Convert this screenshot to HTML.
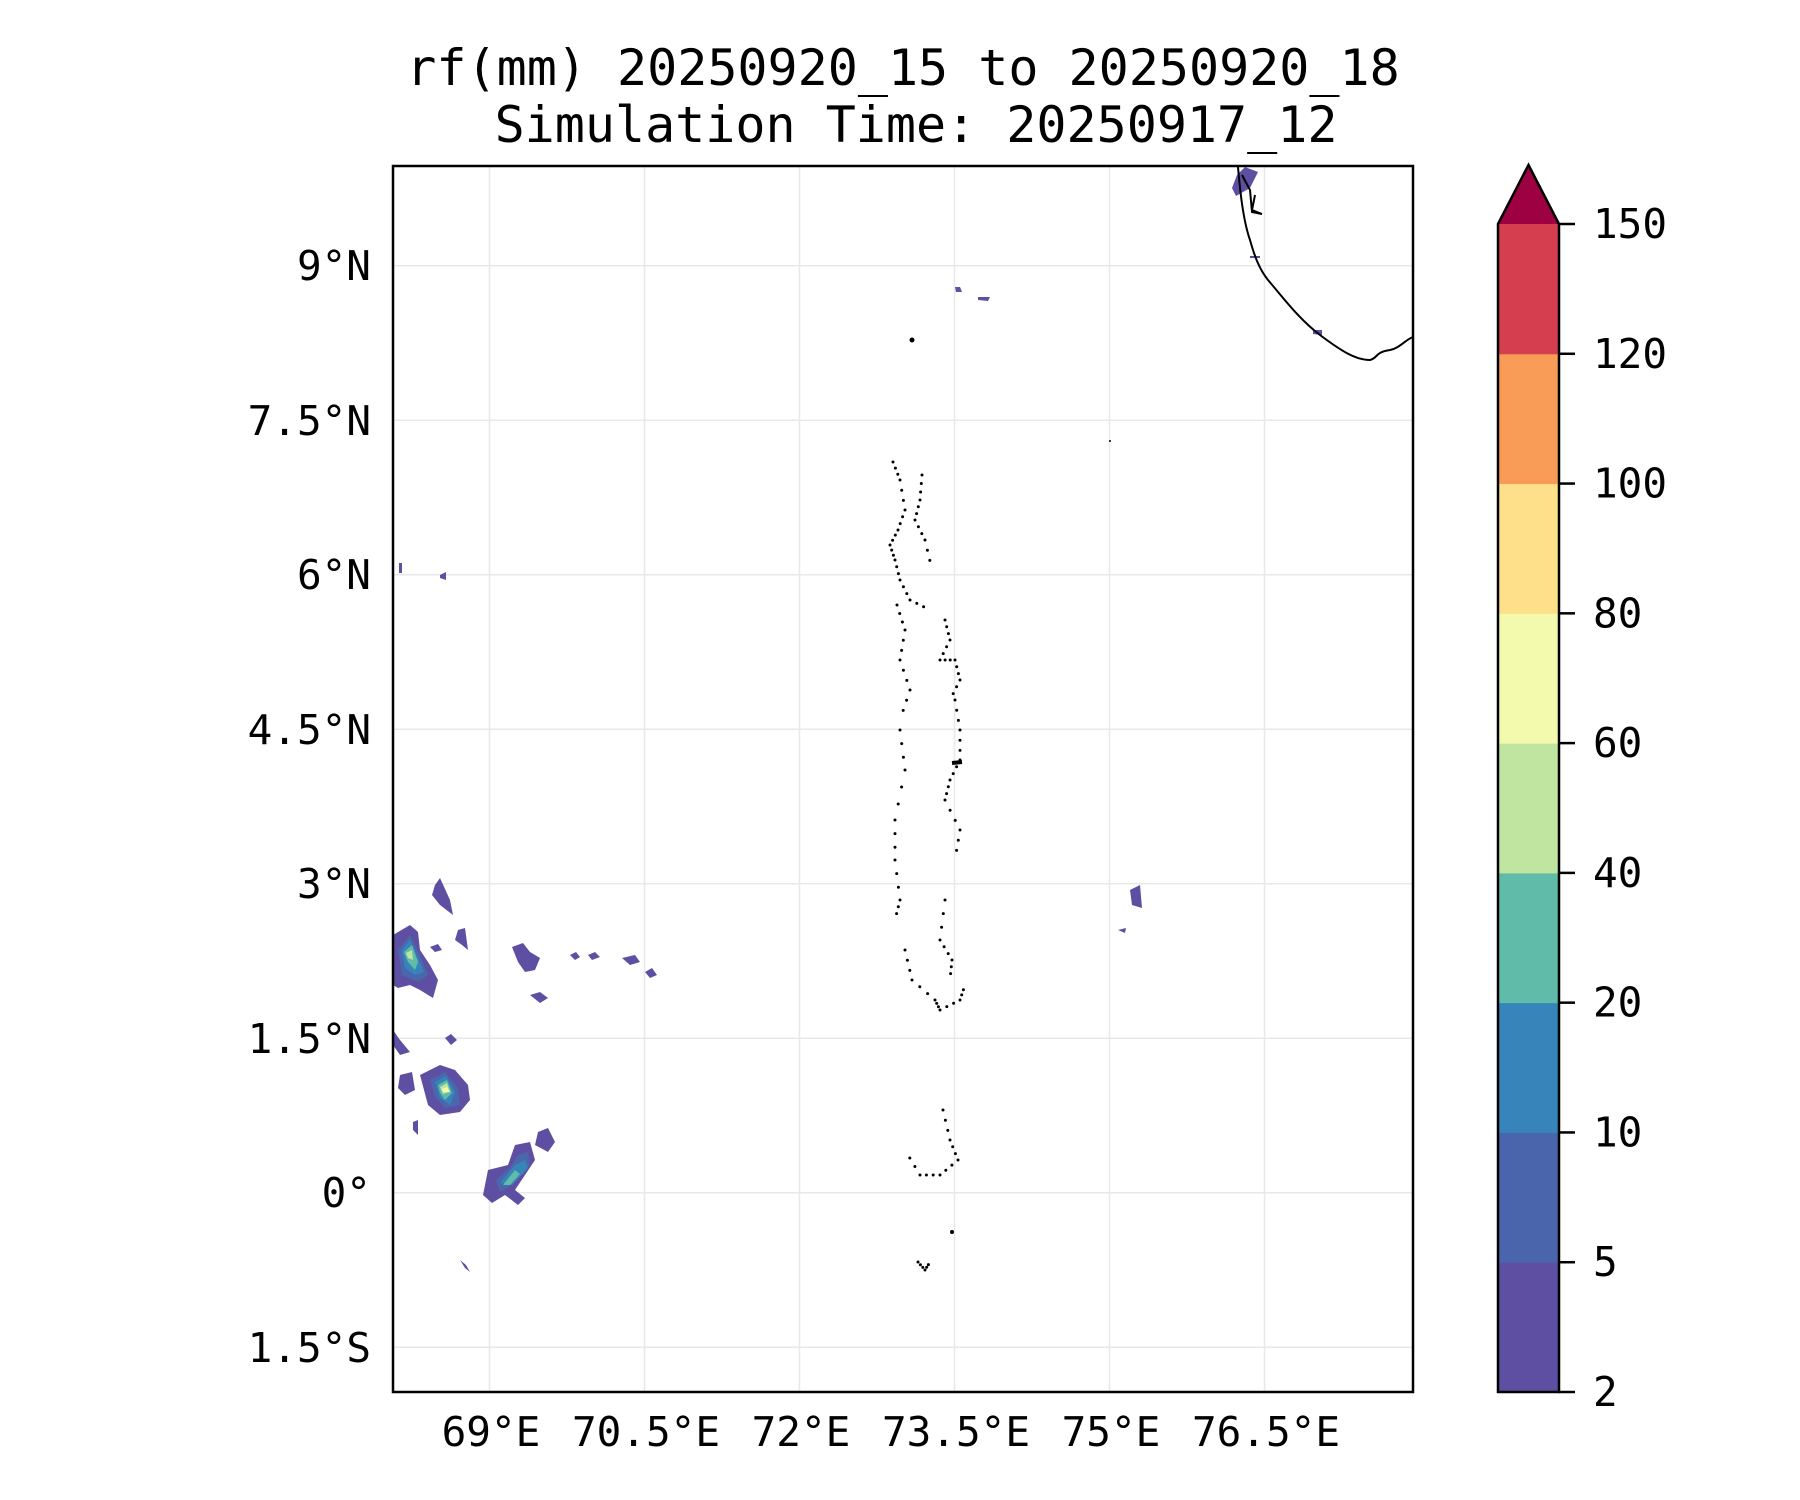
<!DOCTYPE html>
<html><head><meta charset="utf-8"><style>
html,body{margin:0;padding:0;background:#fff;}
svg{display:block;font-family:"DejaVu Sans Mono","Liberation Mono",monospace;}
</style></head><body>
<svg id="s" width="1800" height="1500" viewBox="0 0 1800 1500" xmlns="http://www.w3.org/2000/svg">
<rect width="1800" height="1500" fill="#fff"/>
<text x="903" y="85" font-size="50" text-anchor="middle">rf(mm) 20250920_15 to 20250920_18</text>
<text x="916" y="142" font-size="50" text-anchor="middle">Simulation Time: 20250917_12</text>
<g stroke="#e8e8e8" stroke-width="1.5">
<line x1="489.5" y1="166" x2="489.5" y2="1392"/><line x1="644.5" y1="166" x2="644.5" y2="1392"/>
<line x1="799.5" y1="166" x2="799.5" y2="1392"/><line x1="954.5" y1="166" x2="954.5" y2="1392"/>
<line x1="1109.5" y1="166" x2="1109.5" y2="1392"/><line x1="1264.5" y1="166" x2="1264.5" y2="1392"/>
<line x1="393" y1="265.7" x2="1413" y2="265.7"/><line x1="393" y1="420.2" x2="1413" y2="420.2"/>
<line x1="393" y1="574.7" x2="1413" y2="574.7"/><line x1="393" y1="729.2" x2="1413" y2="729.2"/>
<line x1="393" y1="883.7" x2="1413" y2="883.7"/><line x1="393" y1="1038.2" x2="1413" y2="1038.2"/>
<line x1="393" y1="1192.7" x2="1413" y2="1192.7"/><line x1="393" y1="1347.2" x2="1413" y2="1347.2"/>
</g>
<g fill="#5e4fa2">
<path d="M393,935 L410,925 L418,932 L420,950 L430,965 L438,980 L433,998 L420,990 L410,985 L398,988 L393,985 Z"/>
<path d="M393,1030 L400,1040 L410,1052 L400,1055 L393,1045 Z"/>
<path d="M435,885 L440,878 L450,900 L453,915 L440,905 L432,895 Z"/>
<path d="M458,930 L465,928 L468,950 L462,945 L455,940 Z"/>
<path d="M430,947 L438,944 L442,950 L435,952 Z"/>
<path d="M445,1038 L451,1034 L457,1040 L451,1045 Z"/>
<path d="M420,1075 L440,1065 L455,1070 L468,1085 L470,1100 L460,1112 L440,1115 L428,1105 Z"/>
<path d="M400,1075 L412,1072 L415,1090 L405,1095 L398,1088 Z"/>
<path d="M413,1122 L418,1120 L418,1135 L413,1130 Z"/>
<path d="M488,1170 L508,1165 L515,1145 L530,1142 L535,1160 L525,1175 L515,1190 L525,1198 L518,1205 L505,1195 L492,1203 L483,1195 Z"/>
<path d="M538,1132 L548,1128 L555,1142 L548,1152 L535,1145 Z"/>
<path d="M512,947 L523,943 L530,952 L540,958 L535,970 L525,972 L518,962 Z"/>
<path d="M530,995 L540,992 L548,998 L540,1003 Z"/>
<path d="M622,958 L635,955 L640,962 L630,965 Z"/>
<path d="M645,972 L652,968 L657,975 L650,978 Z"/>
<path d="M570,955 L576,952 L580,957 L575,960 Z M588,955 L595,952 L600,957 L592,960 Z"/>
<path d="M1130,890 L1140,885 L1142,908 L1132,905 Z M1118,930 L1126,928 L1125,933 Z"/>
<path d="M1237,175 L1245,167 L1258,172 L1250,188 L1236,196 L1232,188 Z"/>
<path d="M955,287 L960,287 L962,292 L956,292 Z M978,297 L990,297 L988,301 L978,300 Z"/>
<path d="M1313,330 L1322,330 L1322,335 L1313,334 Z M1250,256 L1260,256 L1260,258 L1250,258 Z"/>
<path d="M440,575 L446,572 L446,580 L440,578 Z M399,563 L402,563 L402,573 L399,573 Z"/>
<path d="M460,1260 L466,1265 L470,1272 L465,1268 Z"/>
</g>
<g fill="#4a67ae">
<path d="M398,950 L410,935 L420,955 L428,975 L418,982 L402,975 Z"/>
<path d="M430,1080 L445,1072 L458,1088 L460,1105 L445,1108 L435,1097 Z"/>
<path d="M496,1180 L510,1168 L518,1155 L528,1152 L530,1165 L512,1185 L500,1192 Z"/>
</g>
<g fill="#3784bb">
<path d="M402,950 L410,940 L418,958 L424,972 L415,975 L405,968 Z"/>
<path d="M435,1082 L446,1076 L455,1092 L450,1105 L440,1098 Z"/>
<path d="M500,1183 L515,1165 L525,1160 L528,1168 L512,1185 Z"/>
</g>
<g fill="#60bba8">
<path d="M404,952 L412,945 L418,962 L415,970 L408,962 Z"/>
<path d="M438,1085 L447,1080 L452,1093 L445,1100 L440,1093 Z"/>
<path d="M503,1185 L515,1170 L520,1174 L510,1185 Z"/>
</g>
<g fill="#bfe5a0"><path d="M406,953 L412,950 L413,960 L408,958 Z"/><path d="M440,1087 L447,1083 L450,1092 L443,1094 Z"/></g>
<g fill="#f4faad"><path d="M442,1089 L447,1087 L450,1092 L443,1092 Z"/></g>
<path d="M1238,167 C1240,190 1243,220 1250,240 C1255,258 1260,270 1268,280 C1285,300 1300,320 1320,335 C1340,350 1355,360 1370,360 C1378,358 1375,352 1390,350 C1400,348 1405,340 1413,337" fill="none" stroke="#000" stroke-width="2"/>
<path d="M1242,175 L1250,190 L1252,212 L1262,214 L1252,210 L1255,195" fill="none" stroke="#000" stroke-width="2"/>
<g id="dots" fill="#000"></g>
<rect x="393" y="166" width="1020" height="1226" fill="none" stroke="#000" stroke-width="2.5"/>
<g font-size="41" text-anchor="middle">
<text x="491" y="1446">69°E</text><text x="646" y="1446">70.5°E</text><text x="801" y="1446">72°E</text>
<text x="956" y="1446">73.5°E</text><text x="1111" y="1446">75°E</text><text x="1266" y="1446">76.5°E</text>
</g>
<g font-size="41" text-anchor="end">
<text x="371" y="280">9°N</text><text x="371" y="435">7.5°N</text><text x="371" y="589">6°N</text>
<text x="371" y="744">4.5°N</text><text x="371" y="898">3°N</text><text x="371" y="1053">1.5°N</text>
<text x="371" y="1207">0°</text><text x="371" y="1362">1.5°S</text>
</g>
<g id="cb"></g>
</svg>
<script>
(function(){
var cols=["#5e4fa2","#4a65ac","#3784bb","#60bba8","#bfe5a0","#f4faad","#fee08b","#f99c58","#d53e4f"];
var labs=["2","5","10","20","40","60","80","100","120","150"];
var ctop=224,bot=1392,st=(bot-ctop)/9,h="";
for(var i=0;i<9;i++){h+='<rect x="1498" y="'+(bot-(i+1)*st)+'" width="61" height="'+(st+0.5)+'" fill="'+cols[i]+'"/>';}
h+='<path d="M1498,224 L1528.5,165 L1559,224 Z" fill="#9e0142"/>';
h+='<path d="M1498,224 L1528.5,165 L1559,224 L1559,1392 L1498,1392 Z" fill="none" stroke="#000" stroke-width="2.5"/>';
for(var i=0;i<10;i++){var y=bot-i*st;h+='<line x1="1559" y1="'+y+'" x2="1575" y2="'+y+'" stroke="#000" stroke-width="2.5"/><text x="1593" y="'+(y+14)+'" font-size="41">'+labs[i]+'</text>';}
document.getElementById("cb").innerHTML=h;
var chains=[[[893,462],[900,480],[905,510],[898,530],[890,545],[895,560],[900,580],[910,600],[930,610]],[[922,475],[920,500],[915,520],[925,540],[932,570]],[[897,605],[905,630],[900,660],[910,690],[900,720]],[[945,620],[950,640],[940,660],[955,660],[960,680],[950,700]],[[900,730],[905,770],[895,820],[895,860],[900,900],[895,920]],[[955,700],[960,730],[960,760],[950,780],[945,800],[960,830],[955,860]],[[945,900],[940,940],[952,960],[950,980]],[[905,950],[912,980],[935,1000],[940,1010],[960,1000],[965,985]],[[943,1110],[950,1140],[958,1160],[940,1175],[920,1175],[905,1150]],[[918,1262],[925,1270],[930,1262]]];
var d="";
chains.forEach(function(c){for(var k=0;k<c.length-1;k++){for(var t=0;t<1;t+=0.34){var x=c[k][0]+(c[k+1][0]-c[k][0])*t,y=c[k][1]+(c[k+1][1]-c[k][1])*t;d+='<circle cx="'+x.toFixed(1)+'" cy="'+y.toFixed(1)+'" r="1.5"/>';}}});
d+='<circle cx="952" cy="1232" r="2"/><circle cx="912" cy="340" r="2.5"/><circle cx="1110" cy="441" r="1"/><path d="M952,763 L962,762" stroke="#000" stroke-width="4"/>';
document.getElementById("dots").innerHTML=d;
})();
</script>
</body></html>
